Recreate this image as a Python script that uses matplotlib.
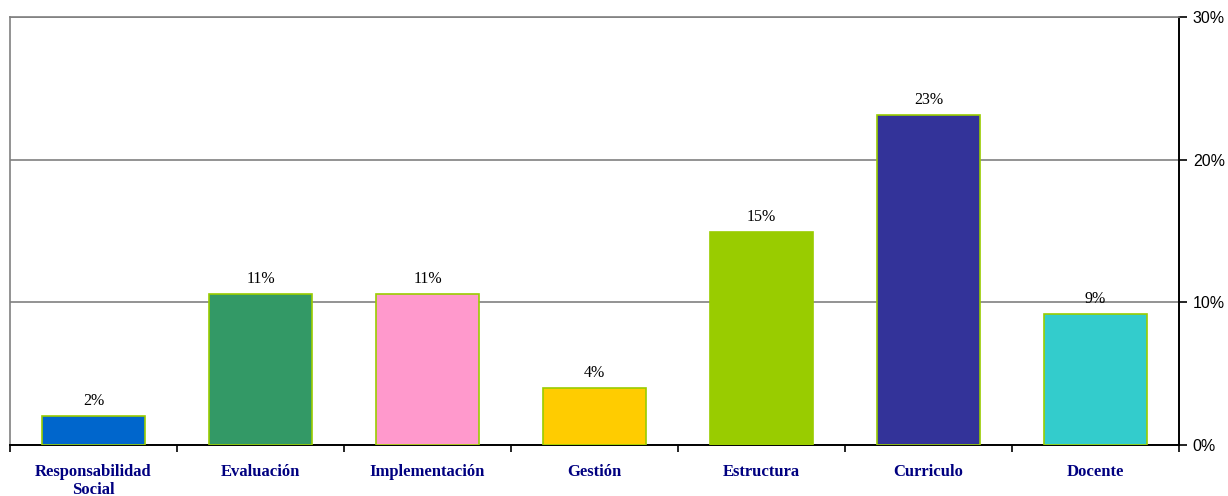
import matplotlib.pyplot as plt
import numpy as np
from matplotlib.ticker import FuncFormatter

# Data
categories = ['Responsabilidad\nSocial', 'Evaluación', 'Implementación', 'Gestión',
              'Estructura', 'Curriculo', 'Docente']
values = [2.0, 10.6, 10.6, 4.0, 14.9, 23.1, 9.2]
labels = ['2%', '11%', '11%', '4%', '15%', '23%', '9%']
colors = ['#0066CC', '#339966', '#FF99CC', '#FFCC00', '#99CC00', '#333399', '#33CCCC']

fig = plt.figure(figsize=(12.28, 4.96), dpi=100)
ax = fig.add_axes([0.00814, 0.1028, 0.9519, 0.8629])

ind = np.arange(len(categories))
ax.bar(ind, values, 0.62, color=colors, edgecolor='#99CC00', linewidth=1.2, zorder=3)

for i, v in enumerate(values):
    ax.text(i, v + 0.5, labels[i], ha='center', va='bottom',
            fontsize=11.5, family='Liberation Serif', color='black')

ax.set_xlim(-0.5, len(categories) - 0.5)
ax.set_ylim(0, 30)

# Gridlines
ax.set_yticks([0, 10, 20, 30])
ax.yaxis.grid(True, color='#808080', linewidth=1.2, zorder=0)
ax.yaxis.set_major_formatter(FuncFormatter(lambda y, _: f'{y:.0f}%'))
ax.yaxis.tick_right()
ax.tick_params(axis='y', direction='out', length=6, width=1.2, labelsize=11.5, pad=4)
for t in ax.get_yticklabels():
    t.set_family('Liberation Sans')

# x ticks at boundaries, labels at centers
ax.set_xticks(np.arange(-0.5, len(categories), 1.0))
ax.set_xticklabels([])
ax.set_xticks(ind, minor=True)
ax.set_xticklabels(categories, minor=True, fontsize=12, family='Liberation Serif',
                   fontweight='bold', color='#000080', linespacing=1.15)
ax.tick_params(axis='x', which='major', direction='out', length=5, width=1.2)
ax.tick_params(axis='x', which='minor', length=0, pad=14)

ax.spines['top'].set_color('#808080')
ax.spines['left'].set_color('#808080')
ax.spines['top'].set_linewidth(1.2)
ax.spines['left'].set_linewidth(1.2)
ax.spines['bottom'].set_linewidth(1.4)
ax.spines['right'].set_linewidth(1.4)

plt.savefig('out.png', dpi=100)
plt.close()
